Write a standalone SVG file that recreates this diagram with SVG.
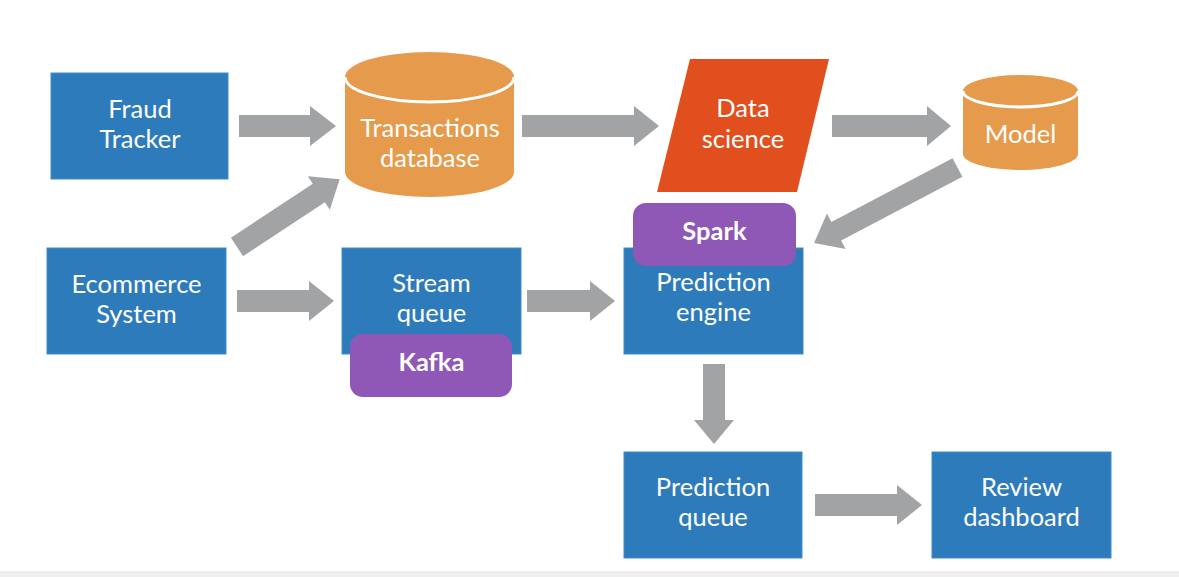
<svg xmlns="http://www.w3.org/2000/svg" width="1179" height="577" viewBox="0 0 1179 577">
  <style>
    .box { fill: #2e7bbb; stroke: #3f8ccb; stroke-width: 1; }
    .db { fill: #e69a4c; }
    .sep { fill: none; stroke: #ffffff; stroke-width: 3; }
    .ds { fill: #e04f1d; }
    .tag { fill: #8f57b6; }
    .arrow { fill: #a2a3a5; }
    .t { font-family: Lato, "Open Sans", "Liberation Sans", sans-serif; font-size: 25.5px; fill: #ffffff; text-anchor: middle; }
    .b { font-weight: bold; }
  </style>
  <rect x="0" y="0" width="1179" height="577" fill="#ffffff"/>
  <rect x="0" y="571" width="1179" height="6" fill="#efefef"/>

  <g id="connectors">
    <polygon class="arrow" points="239,115 310,115 310,106 336,126 310,146 310,137 239,137"/>
    <polygon class="arrow" points="522,115 634,115 634,106 659,126 634,146 634,137 522,137"/>
    <polygon class="arrow" points="832,115 927,115 927,106 951,126 927,146 927,137 832,137"/>
    <polygon class="arrow" points="237,290 309,290 309,281 334,301 309,321 309,312 237,312"/>
    <polygon class="arrow" points="527,290 590,290 590,281 615,301 590,321 590,312 527,312"/>
    <polygon class="arrow" points="815,494 897,494 897,485 922,505 897,525 897,516 815,516"/>
    <polygon class="arrow" points="703,364 725,364 725,420 734,420 714,444 694,420 703,420"/>
    <polygon class="arrow" transform="translate(237,247) rotate(-33.4)" points="0,-11 98,-11 98,-20 123,0 98,20 98,11 0,11"/>
    <polygon class="arrow" transform="translate(957.5,167.5) rotate(152.25)" points="0,-10.5 137,-10.5 137,-20 162,0 137,20 137,10.5 0,10.5"/>
  </g>

  <g id="fraud-tracker">
    <rect class="box" x="51" y="73" width="177" height="106"/>
    <text class="t" x="140" y="118">Fraud</text>
    <text class="t" x="140" y="148">Tracker</text>
  </g>

  <g id="transactions-database">
    <path class="db" d="M345,77 A84.5,25 0 0 1 514,77 L514,172 A84.5,25 0 0 1 345,172 Z"/>
    <path class="sep" d="M345,77 A84.5,25 0 0 0 514,77"/>
    <text class="t" x="430" y="137">Transactions</text>
    <text class="t" x="430" y="167">database</text>
  </g>

  <g id="data-science">
    <polygon class="ds" points="690,59 829,59 797,192 657,192"/>
    <text class="t" x="743" y="117">Data</text>
    <text class="t" x="743" y="148">science</text>
  </g>

  <g id="model">
    <path class="db" d="M963,91 A57.5,16 0 0 1 1078,91 L1078,154 A57.5,16 0 0 1 963,154 Z"/>
    <path class="sep" d="M963,91 A57.5,16 0 0 0 1078,91"/>
    <text class="t" x="1020.5" y="143">Model</text>
  </g>

  <g id="ecommerce-system">
    <rect class="box" x="47" y="248" width="179" height="106"/>
    <text class="t" x="136.5" y="293">Ecommerce</text>
    <text class="t" x="136.5" y="323">System</text>
  </g>

  <g id="stream-queue">
    <rect class="box" x="342" y="248" width="179" height="106"/>
    <text class="t" x="431.5" y="292">Stream</text>
    <text class="t" x="431.5" y="322">queue</text>
  </g>

  <g id="kafka">
    <rect class="tag" x="350" y="334" width="162" height="63" rx="13"/>
    <text class="t b" x="431.5" y="371">Kafka</text>
  </g>

  <g id="prediction-engine">
    <rect class="box" x="624" y="248" width="179" height="106"/>
    <text class="t" x="713.5" y="291">Prediction</text>
    <text class="t" x="713.5" y="321">engine</text>
  </g>

  <g id="spark">
    <rect class="tag" x="633" y="203" width="163" height="63" rx="13"/>
    <text class="t b" x="714.5" y="240">Spark</text>
  </g>

  <g id="prediction-queue">
    <rect class="box" x="624" y="452" width="178" height="106"/>
    <text class="t" x="713" y="496">Prediction</text>
    <text class="t" x="713" y="526">queue</text>
  </g>

  <g id="review-dashboard">
    <rect class="box" x="932" y="452" width="179" height="106"/>
    <text class="t" x="1021.5" y="496">Review</text>
    <text class="t" x="1021.5" y="526">dashboard</text>
  </g>
</svg>
